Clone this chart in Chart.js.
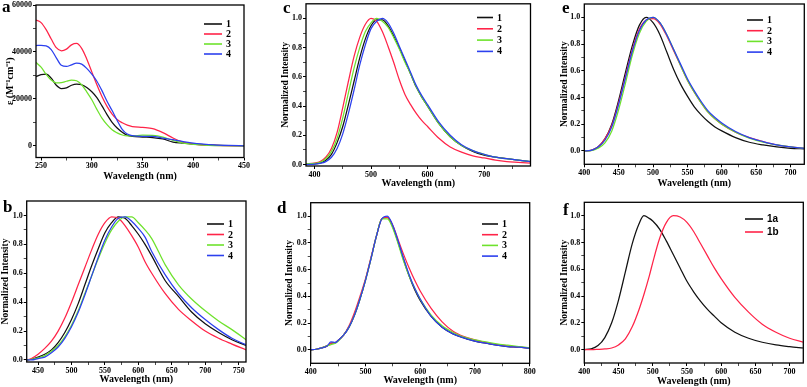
<!DOCTYPE html>
<html>
<head>
<meta charset="utf-8">
<script src="https://cdn.jsdelivr.net/npm/chart.js@4.4.1/dist/chart.umd.min.js"></script>
<style>
  html, body { margin: 0; padding: 0; background: #fff; }
  body { width: 807px; height: 387px; position: relative; overflow: hidden; }
  .p { position: absolute; }
  .p canvas { display: block; }
  .tag { position: absolute; font: bold 17px 'Liberation Serif', serif; line-height: 17px; color: #000; }
</style>
</head>
<body>
<div class="p" style="left:0;top:0;width:262px;height:184px"><canvas id="cA"></canvas></div>
<div class="p" style="left:0;top:190px;width:262px;height:197px"><canvas id="cB"></canvas></div>
<div class="p" style="left:276px;top:0;width:262px;height:190px"><canvas id="cC"></canvas></div>
<div class="p" style="left:276px;top:190px;width:262px;height:197px"><canvas id="cD"></canvas></div>
<div class="p" style="left:548px;top:0;width:259px;height:190px"><canvas id="cE"></canvas></div>
<div class="p" style="left:548px;top:190px;width:259px;height:197px"><canvas id="cF"></canvas></div>
<div class="tag" style="left:2px;top:-2px">a</div>
<div class="tag" style="left:3px;top:198px">b</div>
<div class="tag" style="left:283px;top:-1px">c</div>
<div class="tag" style="left:277px;top:199px">d</div>
<div class="tag" style="left:562px;top:-1px">e</div>
<div class="tag" style="left:563px;top:201px">f</div>
<script>
// ---- datos ----
const names4 = ['1', '2', '3', '4'];
const namesF = ['1a', '1b'];

// (a) absorción, ε en M-1 cm-1
const wlA = [245, 250, 255, 260, 265, 270, 275, 280, 285, 290, 295, 300, 305, 310, 315, 320, 325, 330, 335, 340, 350, 360, 370, 380, 390, 400, 410, 420, 435, 450];
const absA1 = [29500, 30300, 30500, 28800, 25800, 24400, 24700, 25800, 26300, 26000, 24800, 23000, 20500, 17000, 13300, 10000, 7600, 5800, 4500, 4000, 3700, 3500, 2900, 1600, 1100, 700, 450, 250, 80, 0];
const absA2 = [53600, 52500, 49500, 45500, 41800, 40500, 41200, 43000, 43600, 41500, 37000, 31500, 26000, 21000, 16800, 13500, 11200, 9800, 8800, 8200, 7800, 7300, 5600, 3300, 1500, 700, 300, 120, 30, 0];
const absA3 = [35500, 33500, 30500, 28000, 26800, 26900, 27500, 28000, 27700, 26000, 23000, 19600, 15500, 11800, 9000, 6800, 5500, 4600, 4200, 4200, 4500, 4400, 3700, 2300, 1100, 600, 300, 100, 30, 0];
const absA4 = [42700, 42800, 42600, 41000, 37500, 34300, 33800, 34500, 35200, 34800, 33000, 30500, 27500, 23500, 19000, 15000, 10800, 7000, 5000, 4300, 4000, 4000, 3300, 2600, 1800, 1100, 700, 400, 150, 0];

// (b)
const wlB = [433, 440, 450, 460, 470, 480, 490, 500, 510, 520, 530, 540, 550, 560, 570, 580, 590, 600, 610, 620, 640, 660, 680, 700, 720, 740, 761];
const plB1 = [0, 0.005, 0.02, 0.04, 0.07, 0.12, 0.19, 0.28, 0.39, 0.52, 0.65, 0.77, 0.88, 0.95, 0.99, 0.98, 0.93, 0.87, 0.80, 0.72, 0.55, 0.44, 0.33, 0.25, 0.19, 0.14, 0.10];
const plB2 = [0, 0.01, 0.04, 0.08, 0.13, 0.20, 0.29, 0.40, 0.52, 0.64, 0.76, 0.87, 0.95, 0.99, 0.98, 0.93, 0.86, 0.78, 0.68, 0.60, 0.46, 0.35, 0.27, 0.20, 0.15, 0.11, 0.07];
const plB3 = [0, 0.005, 0.015, 0.03, 0.06, 0.10, 0.16, 0.24, 0.34, 0.46, 0.58, 0.70, 0.81, 0.90, 0.96, 0.99, 0.99, 0.95, 0.90, 0.84, 0.66, 0.52, 0.42, 0.34, 0.27, 0.21, 0.14];
const plB4 = [0, 0, 0.01, 0.02, 0.05, 0.09, 0.15, 0.23, 0.33, 0.45, 0.58, 0.71, 0.83, 0.92, 0.98, 0.99, 0.96, 0.91, 0.85, 0.75, 0.59, 0.46, 0.36, 0.28, 0.21, 0.15, 0.105];

// (c)
const wlC = [385, 400, 410, 420, 430, 440, 450, 460, 470, 480, 490, 500, 510, 520, 530, 540, 550, 560, 570, 580, 590, 600, 620, 640, 660, 680, 700, 720, 740, 760, 782];
const plC1 = [0.005, 0.005, 0.01, 0.03, 0.07, 0.15, 0.26, 0.41, 0.57, 0.73, 0.86, 0.95, 0.99, 0.99, 0.95, 0.88, 0.80, 0.71, 0.62, 0.53, 0.46, 0.40, 0.28, 0.19, 0.13, 0.09, 0.065, 0.05, 0.04, 0.03, 0.02];
const plC2 = [0.005, 0.01, 0.02, 0.05, 0.11, 0.22, 0.39, 0.57, 0.74, 0.87, 0.96, 1.0, 0.98, 0.91, 0.81, 0.70, 0.58, 0.48, 0.41, 0.35, 0.30, 0.26, 0.18, 0.12, 0.085, 0.06, 0.045, 0.03, 0.02, 0.015, 0.01];
const plC3 = [0.005, 0.008, 0.015, 0.04, 0.09, 0.18, 0.32, 0.49, 0.66, 0.80, 0.91, 0.97, 1.0, 0.98, 0.94, 0.87, 0.79, 0.70, 0.62, 0.53, 0.46, 0.40, 0.28, 0.19, 0.13, 0.095, 0.07, 0.05, 0.04, 0.03, 0.02];
const plC4 = [0, 0.003, 0.008, 0.02, 0.05, 0.11, 0.21, 0.35, 0.51, 0.68, 0.82, 0.93, 0.98, 1.0, 0.97, 0.90, 0.81, 0.72, 0.63, 0.54, 0.47, 0.41, 0.29, 0.20, 0.135, 0.095, 0.07, 0.05, 0.04, 0.03, 0.02];

// (d)
const wlD = [400, 410, 420, 430, 437, 445, 450, 460, 470, 480, 490, 500, 510, 520, 530, 540, 550, 560, 570, 580, 590, 600, 620, 640, 660, 680, 700, 720, 740, 760, 780, 800];
const plD1 = [0, 0.005, 0.015, 0.03, 0.05, 0.055, 0.07, 0.11, 0.17, 0.26, 0.38, 0.52, 0.68, 0.85, 0.98, 0.99, 0.92, 0.80, 0.67, 0.55, 0.45, 0.37, 0.25, 0.17, 0.12, 0.09, 0.065, 0.05, 0.035, 0.025, 0.02, 0.012];
const plD2 = [0, 0.005, 0.015, 0.03, 0.05, 0.055, 0.07, 0.11, 0.18, 0.28, 0.40, 0.53, 0.69, 0.85, 0.98, 0.99, 0.93, 0.82, 0.71, 0.61, 0.52, 0.44, 0.31, 0.21, 0.14, 0.10, 0.075, 0.055, 0.04, 0.03, 0.02, 0.015];
const plD3 = [0, 0.005, 0.015, 0.03, 0.04, 0.05, 0.065, 0.11, 0.17, 0.26, 0.38, 0.52, 0.68, 0.85, 0.98, 0.98, 0.91, 0.79, 0.66, 0.55, 0.46, 0.38, 0.26, 0.18, 0.13, 0.095, 0.075, 0.06, 0.045, 0.035, 0.025, 0.015];
const plD4 = [0, 0.005, 0.015, 0.03, 0.06, 0.055, 0.07, 0.11, 0.17, 0.26, 0.38, 0.52, 0.68, 0.85, 0.98, 1.0, 0.93, 0.81, 0.68, 0.56, 0.46, 0.38, 0.25, 0.17, 0.12, 0.09, 0.065, 0.05, 0.035, 0.025, 0.02, 0.012];

// (e)
const wlE = [400, 410, 420, 430, 440, 450, 460, 470, 480, 490, 500, 510, 520, 530, 540, 550, 560, 570, 580, 590, 600, 620, 640, 660, 680, 700, 720];
const plE1 = [0, 0.005, 0.03, 0.09, 0.20, 0.38, 0.59, 0.79, 0.94, 1.0, 0.96, 0.87, 0.74, 0.61, 0.50, 0.41, 0.33, 0.27, 0.22, 0.18, 0.15, 0.10, 0.065, 0.045, 0.03, 0.02, 0.015];
const plE2 = [0, 0.005, 0.03, 0.09, 0.19, 0.36, 0.56, 0.76, 0.91, 0.98, 0.99, 0.95, 0.86, 0.75, 0.64, 0.53, 0.44, 0.36, 0.29, 0.24, 0.20, 0.14, 0.10, 0.07, 0.045, 0.03, 0.02];
const plE3 = [0, 0.003, 0.02, 0.06, 0.15, 0.31, 0.51, 0.72, 0.88, 0.97, 1.0, 0.96, 0.87, 0.76, 0.64, 0.53, 0.44, 0.36, 0.29, 0.24, 0.20, 0.14, 0.095, 0.065, 0.045, 0.03, 0.02];
const plE4 = [0, 0.005, 0.03, 0.08, 0.18, 0.35, 0.55, 0.75, 0.90, 0.98, 1.0, 0.96, 0.87, 0.76, 0.65, 0.54, 0.45, 0.37, 0.30, 0.25, 0.21, 0.145, 0.10, 0.07, 0.045, 0.03, 0.02];

// (f)
const wlF = [400, 410, 420, 430, 440, 450, 460, 470, 480, 487, 495, 500, 510, 520, 530, 540, 550, 560, 570, 580, 590, 600, 620, 640, 660, 680, 700, 720];
const plF1 = [0, 0.005, 0.03, 0.09, 0.20, 0.37, 0.58, 0.79, 0.94, 1.0, 0.98, 0.96, 0.90, 0.81, 0.71, 0.61, 0.51, 0.43, 0.36, 0.30, 0.25, 0.20, 0.13, 0.085, 0.055, 0.035, 0.022, 0.012];
const plF2 = [0, 0, 0.002, 0.005, 0.012, 0.035, 0.08, 0.17, 0.30, 0.41, 0.55, 0.65, 0.83, 0.95, 1.0, 0.99, 0.95, 0.88, 0.79, 0.70, 0.61, 0.53, 0.39, 0.28, 0.19, 0.13, 0.085, 0.055];

// ticks
const ticksAx = [250, 300, 350, 400, 450], minorAx = [275, 325, 375, 425];
const ticksAy = [0, 20000, 40000, 60000], minorAy = [10000, 30000, 50000];
const ticksBx = [450, 500, 550, 600, 650, 700, 750], minorBx = [475, 525, 575, 625, 675, 725];
const ticksCx = [400, 500, 600, 700], minorCx = [450, 550, 650, 750];
const ticksDx = [400, 500, 600, 700, 800], minorDx = [450, 550, 650, 750];
const ticksEx = [400, 450, 500, 550, 600, 650, 700], minorEx = [425, 475, 525, 575, 625, 675];
const ticksNy = [0, 0.2, 0.4, 0.6, 0.8, 1.0], minorNy = [0.1, 0.3, 0.5, 0.7, 0.9];

const FONT = "'Liberation Serif', 'Times New Roman', serif";
const COLORS = ['#111111', '#ff2448', '#6ee22c', '#2c40ee'];

// marco completo alrededor del área de trazado
const frame = {
  id: 'frame',
  afterDraw(c) {
    const { ctx, chartArea: a } = c;
    ctx.save();
    ctx.strokeStyle = '#000';
    ctx.lineWidth = 1.3;
    ctx.strokeRect(a.left, a.top, a.right - a.left, a.bottom - a.top);
    ctx.restore();
  },
};

// leyenda dentro del área (estilo Origin)
const miniLegend = {
  id: 'miniLegend',
  afterDraw(c, args, o) {
    const { ctx, chartArea: a } = c;
    ctx.save();
    c.data.datasets.forEach((d, i) => {
      const x = a.right - o.dx, y = a.top + o.dy + i * o.gap;
      ctx.strokeStyle = d.borderColor;
      ctx.lineWidth = 1.6;
      ctx.beginPath(); ctx.moveTo(x, y); ctx.lineTo(x + o.len, y); ctx.stroke();
      ctx.fillStyle = '#000';
      ctx.font = `bold ${o.size || 10}px ${o.family || FONT}`;
      ctx.textBaseline = 'middle';
      ctx.fillText(d.label, x + o.len + 4, y + 0.5);
    });
    ctx.restore();
  },
};

Chart.defaults.font.family = FONT;
Chart.defaults.color = '#000';

function spectrum(id, o) {
  const ds = o.series.map((s, i) => ({
    label: o.names[i],
    data: o.wl.map((w, j) => ({ x: w, y: s[j] })),
    borderColor: o.colors[i], borderWidth: 1.25,
    pointRadius: 0, fill: false, cubicInterpolationMode: 'monotone',
    order: o.series.length - i,
  }));
  const setTicks = (major, minor) => (s) => {
    s.ticks = major.concat(minor).sort((p, q) => p - q).map((v) => ({ value: v }));
  };
  const grid = (major) => ({
    drawOnChartArea: false, drawTicks: true, tickLength: 3, color: '#000',
    tickWidth: (c) => (c.tick && major.includes(c.tick.value) ? 1 : 0.7),
  });
  new Chart(document.getElementById(id), {
    type: 'line',
    data: { datasets: ds },
    options: {
      responsive: true, maintainAspectRatio: false, animation: false,
      layout: { padding: { left: 0, top: o.box.top, right: o.box.right, bottom: 0 } },
      plugins: { legend: { display: false }, tooltip: { enabled: false }, miniLegend: o.legend },
      scales: {
        x: {
          type: 'linear', min: o.xr[0], max: o.xr[1],
          afterFit: (s) => { s.height = o.box.xH; },
          afterBuildTicks: setTicks(o.xMajor, o.xMinor),
          ticks: {
            autoSkip: false, maxRotation: 0, padding: 1.5,
            font: { size: 8, weight: 'bold', lineHeight: 1 },
            callback: (v) => (o.xMajor.includes(v) ? String(v) : ''),
          },
          grid: grid(o.xMajor), border: { display: false },
          title: { display: true, text: 'Wavelength (nm)', font: { size: 10, weight: 'bold' }, padding: { top: 0, bottom: o.box.xTitle } },
        },
        y: {
          type: 'linear', min: o.yr[0], max: o.yr[1],
          afterFit: (s) => { s.width = o.box.yW; },
          afterBuildTicks: setTicks(o.yMajor, o.yMinor),
          ticks: {
            autoSkip: false, padding: 1,
            font: { size: 8, weight: 'bold', lineHeight: 0.7 },
            callback: (v) => (o.yMajor.includes(v) ? o.fmt(v) : ''),
          },
          grid: grid(o.yMajor), border: { display: false },
          title: { display: true, text: o.yTitle, font: { size: o.yTitleSize || 9.5, weight: 'bold' }, padding: { top: o.box.yTitle, bottom: 0 } },
        },
      },
    },
    plugins: [frame, miniLegend],
  });
}

const norm = (v) => v.toFixed(1);
const NORM = 'Normalized Intensity';

spectrum('cA', {
  wl: wlA, series: [absA1, absA2, absA3, absA4], names: names4, colors: COLORS,
  xr: [245, 450], yr: [-5000, 60000], xMajor: ticksAx, xMinor: minorAx, yMajor: ticksAy, yMinor: minorAy,
  fmt: String, yTitle: 'ε (M⁻¹cm⁻¹)', yTitleSize: 10,
  box: { yW: 36, top: 5, right: 18, xH: 26.5, xTitle: 2, yTitle: 4 },
  legend: { dx: 40, dy: 19, gap: 10, len: 18 },
});
spectrum('cB', {
  wl: wlB, series: [plB1, plB2, plB3, plB4], names: names4, colors: COLORS,
  xr: [433, 761], yr: [-0.014, 1.1], xMajor: ticksBx, xMinor: minorBx, yMajor: ticksNy, yMinor: minorNy,
  fmt: norm, yTitle: NORM,
  box: { yW: 26.7, top: 11, right: 16, xH: 25, xTitle: 2, yTitle: 0 },
  legend: { dx: 39, dy: 23, gap: 10.5, len: 17 },
});
spectrum('cC', {
  wl: wlC, series: [plC1, plC2, plC3, plC4], names: names4, colors: COLORS,
  xr: [385, 782], yr: [-0.01, 1.1], xMajor: ticksCx, xMinor: minorCx, yMajor: ticksNy, yMinor: minorNy,
  fmt: norm, yTitle: NORM,
  box: { yW: 30, top: 3.3, right: 7.5, xH: 24, xTitle: 1, yTitle: 4.3 },
  legend: { dx: 53.5, dy: 13.7, gap: 11.3, len: 16 },
});
spectrum('cD', {
  wl: wlD, series: [plD1, plD2, plD3, plD4], names: names4, colors: COLORS,
  xr: [400, 800], yr: [-0.1, 1.1], xMajor: ticksDx, xMinor: minorDx, yMajor: ticksNy, yMinor: minorNy,
  fmt: norm, yTitle: NORM,
  box: { yW: 34.7, top: 12.7, right: 8.3, xH: 23.7, xTitle: 1, yTitle: 8.3 },
  legend: { dx: 47.7, dy: 21.3, gap: 10.7, len: 16 },
});
spectrum('cE', {
  wl: wlE, series: [plE1, plE2, plE3, plE4], names: names4, colors: COLORS,
  xr: [400, 720], yr: [-0.1, 1.1], xMajor: ticksEx, xMinor: minorEx, yMajor: ticksNy, yMinor: minorNy,
  fmt: norm, yTitle: NORM,
  box: { yW: 36.3, top: 4, right: 2.7, xH: 25.7, xTitle: 1, yTitle: 11.3 },
  legend: { dx: 57.3, dy: 16, gap: 10.7, len: 16 },
});
spectrum('cF', {
  wl: wlF, series: [plF1, plF2], names: namesF, colors: COLORS,
  xr: [400, 720], yr: [-0.1, 1.1], xMajor: ticksEx, xMinor: minorEx, yMajor: ticksNy, yMinor: minorNy,
  fmt: norm, yTitle: NORM,
  box: { yW: 36.3, top: 12.3, right: 3.7, xH: 24, xTitle: 0, yTitle: 11.3 },
  legend: { dx: 58.3, dy: 16.7, gap: 13, len: 18, family: "'Liberation Sans', Arial, sans-serif", size: 10 },
});
</script>
</body>
</html>
